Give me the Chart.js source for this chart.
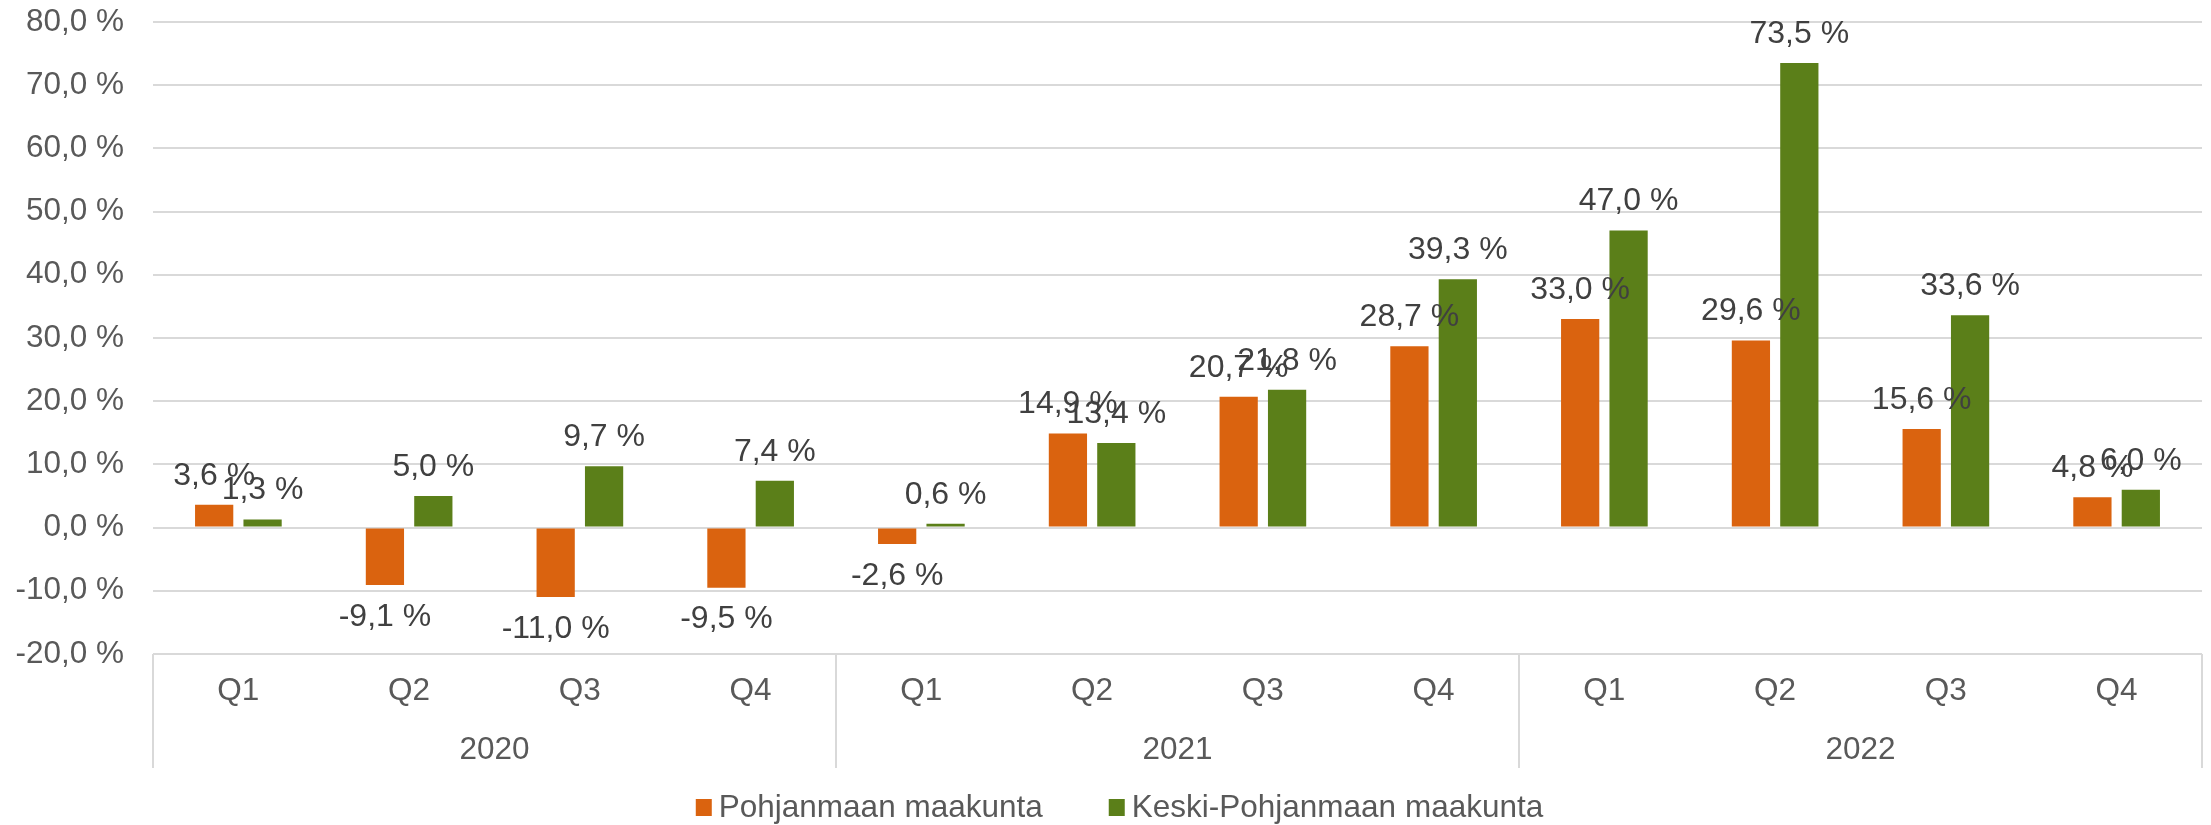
<!DOCTYPE html>
<html>
<head>
<meta charset="utf-8">
<script src="https://cdn.jsdelivr.net/npm/chart.js@4"></script>
<style>
  html, body { margin: 0; padding: 0; background: #fff; }
  #wrap { width: 2211px; height: 825px; }
</style>
</head>
<body>
<div id="wrap"><canvas id="bar-chart"></canvas></div>
<script>
// data
const quarters = ["Q1", "Q2", "Q3", "Q4", "Q1", "Q2", "Q3", "Q4", "Q1", "Q2", "Q3", "Q4"];
const years = ["2020", "2021", "2022"];
const pohjanmaa = [3.6, -9.1, -11.0, -9.5, -2.6, 14.9, 20.7, 28.7, 33.0, 29.6, 15.6, 4.8];
const keskiPohjanmaa = [1.3, 5.0, 9.7, 7.4, 0.6, 13.4, 21.8, 39.3, 47.0, 73.5, 33.6, 6.0];
const yTicks = [-20, -10, 0, 10, 20, 30, 40, 50, 60, 70, 80];

const fontFamily = "'Liberation Sans', Arial, sans-serif";
const fmt = (v) => v.toFixed(1).replace(".", ",") + " %";

// labels at the outer end of each bar
const barLabels = {
  id: "barLabels",
  afterDatasetsDraw(chart) {
    const ctx = chart.ctx;
    ctx.save();
    ctx.font = "32px " + fontFamily;
    ctx.fillStyle = "#404040";
    ctx.textAlign = "center";
    ctx.textBaseline = "middle";
    chart.data.datasets.forEach((ds, i) => {
      chart.getDatasetMeta(i).data.forEach((bar, j) => {
        const v = ds.data[j];
        const y = v >= 0 ? bar.y - 29 : bar.y + 32;
        ctx.fillText(fmt(v), bar.x, y);
      });
    });
    ctx.restore();
  },
};

// year group separators + own legend
const groupLines = {
  id: "groupLines",
  afterDraw(chart) {
    const ctx = chart.ctx;
    const x = chart.scales.x;
    const x2 = chart.scales.x2;
    const area = chart.chartArea;
    ctx.save();
    ctx.strokeStyle = "#d9d9d9";
    ctx.lineWidth = 2;
    for (let b = 0; b <= quarters.length; b += 4) {
      let px;
      if (b === 0) px = x.left;
      else if (b === quarters.length) px = x.right;
      else px = (x.getPixelForValue(b - 1) + x.getPixelForValue(b)) / 2;
      ctx.beginPath();
      ctx.moveTo(px, area.bottom);
      ctx.lineTo(px, x2.bottom);
      ctx.stroke();
    }

    // legend
    ctx.font = "31.5px " + fontFamily;
    ctx.textBaseline = "middle";
    ctx.textAlign = "left";
    const box = 16, gapText = 7, gapItem = 66;
    const items = chart.data.datasets.map((d) => ({
      text: d.label,
      color: d.backgroundColor,
      w: box + gapText + ctx.measureText(d.label).width,
    }));
    const total = items.reduce((s, it) => s + it.w, 0) + gapItem * (items.length - 1);
    let cx = chart.width / 2 + 14 - total / 2;
    const cy = 808;
    items.forEach((it) => {
      ctx.fillStyle = it.color;
      ctx.fillRect(cx, cy - 9, box, 17);
      ctx.fillStyle = "#595959";
      ctx.fillText(it.text, cx + box + gapText, cy);
      cx += it.w + gapItem;
    });
    ctx.restore();
  },
};

const contenedorBarChart = document.querySelector("#bar-chart").getContext("2d");

const barChart = new Chart(contenedorBarChart, {
  type: "bar",
  data: {
    labels: quarters,
    datasets: [
      {
        label: "Pohjanmaan maakunta",
        data: pohjanmaa,
        backgroundColor: "#DA630F",
        xAxisID: "x",
      },
      {
        label: "Keski-Pohjanmaan maakunta",
        data: keskiPohjanmaa,
        backgroundColor: "#5B7F19",
        xAxisID: "x",
      },
    ],
  },
  options: {
    responsive: true,
    maintainAspectRatio: false,
    animation: false,
    categoryPercentage: 0.567,
    barPercentage: 0.79,
    layout: { padding: { top: 22, right: 9, bottom: 57, left: 0 } },
    plugins: {
      legend: { display: false },
      tooltip: { enabled: false },
    },
    scales: {
      x: {
        position: "bottom",
        grid: { display: false, drawTicks: false },
        border: { display: false },
        afterFit(scale) {
          scale.height = 55;
        },
        ticks: {
          padding: 18,
          color: "#595959",
          font: { family: fontFamily, size: 31.5 },
          maxRotation: 0,
          autoSkip: false,
        },
      },
      x2: {
        type: "category",
        labels: years,
        position: "bottom",
        offset: true,
        grid: { display: false, drawTicks: false },
        border: { display: false },
        afterFit(scale) {
          scale.height = 59;
        },
        ticks: {
          padding: 22,
          color: "#595959",
          font: { family: fontFamily, size: 31.5 },
          maxRotation: 0,
        },
      },
      y: {
        min: yTicks[0],
        max: yTicks[yTicks.length - 1],
        afterBuildTicks(scale) {
          scale.ticks = yTicks.map((v) => ({ value: v }));
        },
        afterFit(scale) {
          scale.width = 153;
          scale.paddingTop = 0;
          scale.paddingBottom = 0;
        },
        grid: { color: "#d9d9d9", lineWidth: 2, drawTicks: false },
        border: { display: false },
        ticks: {
          padding: 29,
          color: "#595959",
          font: { family: fontFamily, size: 31.5 },
          callback: (v) => fmt(v),
        },
      },
    },
  },
  plugins: [barLabels, groupLines],
});
</script>
</body>
</html>
